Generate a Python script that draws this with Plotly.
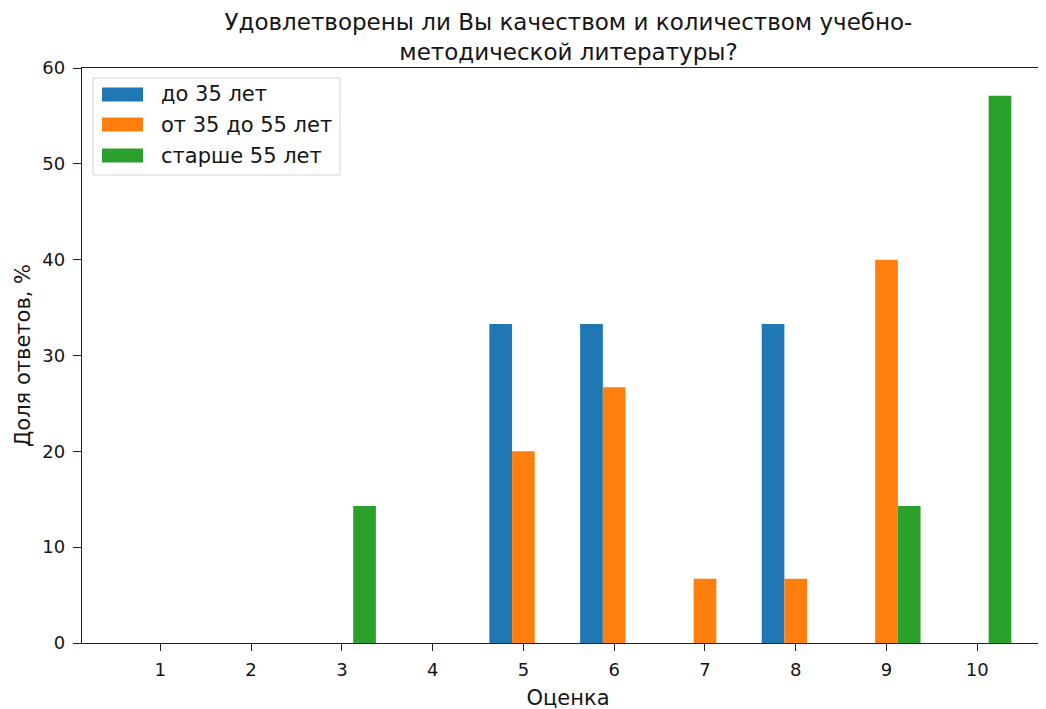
import plotly.graph_objects as go

categories = [1, 2, 3, 4, 5, 6, 7, 8, 9, 10]
series_names = ["до 35 лет", "от 35 до 55 лет", "старше 55 лет"]
under_35 = [0, 0, 0, 0, 33.3, 33.3, 0, 33.3, 0, 0]
from_35_to_55 = [0, 0, 0, 0, 20.0, 26.7, 6.7, 6.7, 40.0, 0]
over_55 = [0, 0, 14.3, 0, 0, 0, 0, 0, 14.3, 57.1]
colors = ["#1f77b4", "#ff7f0e", "#2ca02c"]
y_ticks = [0, 10, 20, 30, 40, 50, 60]

title_text = "Удовлетворены ли Вы качеством и количеством учебно-<br>методической литературы?"
x_title = "Оценка"
y_title = "Доля ответов, %"

W, H = 1046, 709
OFF = 8  # page body margin
L, R, T, B = 74, 0, 60, 74
FONT = "DejaVu Sans"
TXT = "#151515"

fig = go.Figure()
for name, vals, col in zip(series_names, [under_35, from_35_to_55, over_55], colors):
    fig.add_trace(go.Bar(x=categories, y=vals, name=name, marker_color=col,
                         marker_line_width=0, showlegend=False))

pw = W - L - R
ph = H - T - B

def px_x(p):  # screen px -> paper
    return (p - OFF - L) / pw

def px_y(p):
    return (H - B - (p - OFF)) / ph

shapes = []
annotations = []
shapes.append(dict(type="rect", xref="paper", yref="paper",
                   x0=px_x(93), x1=px_x(340), y0=px_y(175), y1=px_y(78),
                   line=dict(color="#d4d4d4", width=1), fillcolor="rgba(255,255,255,0.85)"))
row_centers = [94.5, 124.5, 155.5]
for name, col, yc in zip(series_names, colors, row_centers):
    shapes.append(dict(type="rect", xref="paper", yref="paper",
                       x0=px_x(102), x1=px_x(143), y0=px_y(yc + 7), y1=px_y(yc - 7),
                       line=dict(width=0), fillcolor=col))
    annotations.append(dict(text=name, xref="paper", yref="paper",
                            x=px_x(159), y=px_y(yc), xanchor="left", yanchor="middle",
                            showarrow=False, font=dict(family=FONT, size=21, color=TXT)))

fig.update_layout(
    width=W, height=H,
    margin=dict(l=L, r=R, t=T, b=B),
    paper_bgcolor="white", plot_bgcolor="white",
    barmode="group", bargap=0.25, bargroupgap=0,
    font=dict(family=FONT, size=18, color=TXT),
    title=dict(text=title_text, x=(568.5 - OFF) / W, xanchor="center",
               yref="paper", y=1, yanchor="bottom", pad=dict(b=38),
               font=dict(family=FONT, size=23, color=TXT)),
    shapes=shapes,
    annotations=annotations,
    showlegend=False,
)
fig.update_xaxes(
    range=[0.1375, 10.845], tickmode="array", tickvals=categories,
    ticktext=[str(c) for c in categories],
    showline=True, linecolor="#222", linewidth=1.3, mirror=True,
    ticks="outside", ticklen=7, tickcolor="#222", tickwidth=1.3,
    ticklabelstandoff=3,
    showgrid=False, zeroline=False,
    title=dict(text=x_title, standoff=11, font=dict(family=FONT, size=21, color=TXT)),
    tickfont=dict(family=FONT, size=18, color=TXT),
)
fig.update_yaxes(
    range=[0, 60], tickmode="array", tickvals=y_ticks,
    showline=True, linecolor="#222", linewidth=1.3, mirror=False,
    ticks="outside", ticklen=8, tickcolor="#222", tickwidth=1.3,
    ticklabelstandoff=4,
    showgrid=False, zeroline=False,
    title=dict(text=y_title, standoff=5, font=dict(family=FONT, size=21, color=TXT)),
    tickfont=dict(family=FONT, size=18, color=TXT),
)

fig.write_html("out.html")
